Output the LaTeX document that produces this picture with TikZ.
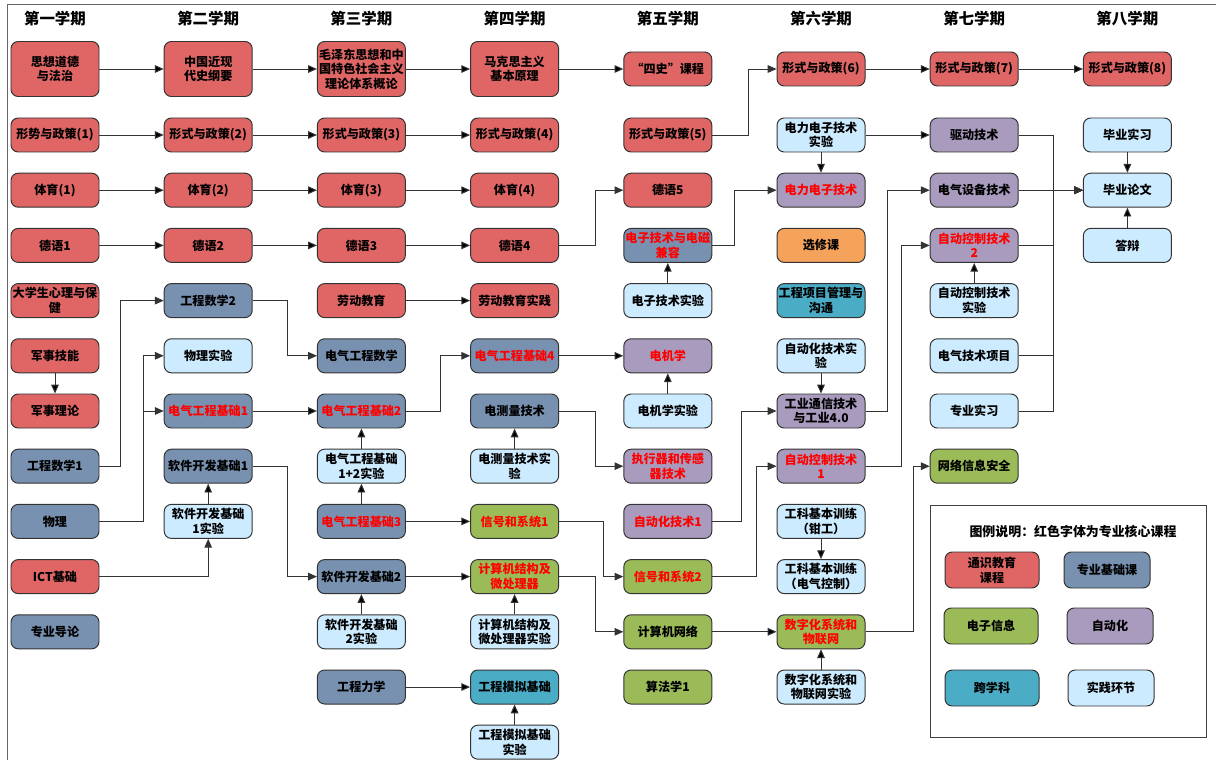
\documentclass[tikz,border=0pt]{standalone}
\usepackage{fontspec}
\setmainfont{Noto Sans CJK SC}
\usetikzlibrary{positioning, arrows.meta}
\definecolor{cgen}{HTML}{E06666}
\definecolor{cbas}{HTML}{7891B0}
\definecolor{cele}{HTML}{9BBB59}
\definecolor{caut}{HTML}{A99BBD}
\definecolor{ccrs}{HTML}{4BACC6}
\definecolor{cprc}{HTML}{CCEBFF}
\definecolor{copt}{HTML}{F5A35B}

\begin{document}
\begin{tikzpicture}[node distance=1.38cm and 3.83cm,on grid,
  >={Triangle[length=2.2mm,width=1.9mm]},
  course/.style={draw=black!80,line width=0.7pt,rounded corners=1.8mm,
    minimum width=2.2cm,minimum height=0.85cm,inner xsep=1pt,inner ysep=1pt,
    align=center,font=\fontsize{8.6}{10.4}\selectfont\bfseries},
  tall/.style={minimum height=1.375cm},
  gen/.style={course,fill=cgen},
  bas/.style={course,fill=cbas},
  ele/.style={course,fill=cele},
  aut/.style={course,fill=caut},
  crs/.style={course,fill=ccrs},
  lab/.style={course,fill=cprc},
  opt/.style={course,fill=copt},
  core/.style={text=red},
  head/.style={font=\fontsize{11}{13}\selectfont\bfseries},
  legbox/.style={minimum width=2.35cm,minimum height=0.9cm},
  link/.style={->,line width=0.7pt,draw=black!80}]
\useasboundingbox (-1.375,1.725) rectangle (29.025,-17.275);
\draw[black!60,line width=0.7pt] (-1.2,-17.275) |- (29.025,1.625);

% first semester
\node[gen,tall] (a1) {思想道德\\与法治};
\node[gen] (a2) [below=1.65cm of a1] {形势与政策(1)};
\node[gen] (a3) [below=of a2] {体育(1)};
\node[gen] (a4) [below=of a3] {德语1};
\node[gen] (a5) [below=of a4] {大学生心理与保\\健};
\node[gen] (a6) [below=of a5] {军事技能};
\node[gen] (a7) [below=of a6] {军事理论};
\node[bas] (a8) [below=of a7] {工程数学1};
\node[bas] (a9) [below=of a8] {物理};
\node[gen] (a10) [below=of a9] {ICT基础};
\node[bas] (a11) [below=of a10] {专业导论};

% second semester
\node[gen,tall] (b1) [right=of a1] {中国近现\\代史纲要};
\node[gen] (b2) [below=1.65cm of b1] {形式与政策(2)};
\node[gen] (b3) [below=of b2] {体育(2)};
\node[gen] (b4) [below=of b3] {德语2};
\node[bas] (b5) [below=of b4] {工程数学2};
\node[lab] (b6) [below=of b5] {物理实验};
\node[bas,core] (b7) [below=of b6] {电气工程基础1};
\node[bas] (b8) [below=of b7] {软件开发基础1};
\node[lab] (b9) [below=of b8] {软件开发基础\\1实验};

% third semester
\node[gen,tall] (c1) [right=of b1] {毛泽东思想和中\\国特色社会主义\\理论体系概论};
\node[gen] (c2) [below=1.65cm of c1] {形式与政策(3)};
\node[gen] (c3) [below=of c2] {体育(3)};
\node[gen] (c4) [below=of c3] {德语3};
\node[gen] (c5) [below=of c4] {劳动教育};
\node[bas] (c6) [below=of c5] {电气工程数学};
\node[bas,core] (c7) [below=of c6] {电气工程基础2};
\node[lab] (c8) [below=of c7] {电气工程基础\\1+2实验};
\node[bas,core] (c9) [below=of c8] {电气工程基础3};
\node[bas] (c10) [below=of c9] {软件开发基础2};
\node[lab] (c11) [below=of c10] {软件开发基础\\2实验};
\node[bas] (c12) [below=of c11] {工程力学};

% fourth semester
\node[gen,tall] (d1) [right=of c1] {马克思主义\\基本原理};
\node[gen] (d2) [below=1.65cm of d1] {形式与政策(4)};
\node[gen] (d3) [below=of d2] {体育(4)};
\node[gen] (d4) [below=of d3] {德语4};
\node[gen] (d5) [below=of d4] {劳动教育实践};
\node[bas,core] (d6) [below=of d5] {电气工程基础4};
\node[bas] (d7) [below=of d6] {电测量技术};
\node[lab] (d8) [below=of d7] {电测量技术实\\验};
\node[ele,core] (d9) [below=of d8] {信号和系统1};
\node[ele,core] (d10) [below=of d9] {计算机结构及\\微处理器};
\node[lab] (d11) [below=of d10] {计算机结构及\\微处理器实验};
\node[crs] (d12) [below=of d11] {工程模拟基础};
\node[lab] (d13) [below=of d12] {工程模拟基础\\实验};

% fifth semester
\node[gen] (e1) [right=of d1] {“四史”课程};
\node[gen] (e2) [below=1.65cm of e1] {形式与政策(5)};
\node[gen] (e3) [below=of e2] {德语5};
\node[bas,core] (e4) [below=of e3] {电子技术与电磁\\兼容};
\node[lab] (e5) [below=of e4] {电子技术实验};
\node[aut,core] (e6) [below=of e5] {电机学};
\node[lab] (e7) [below=of e6] {电机学实验};
\node[aut,core] (e8) [below=of e7] {执行器和传感\\器技术};
\node[aut,core] (e9) [below=of e8] {自动化技术1};
\node[ele,core] (e10) [below=of e9] {信号和系统2};
\node[ele] (e11) [below=of e10] {计算机网络};
\node[ele] (e12) [below=of e11] {算法学1};

% sixth semester
\node[gen] (f1) [right=of e1] {形式与政策(6)};
\node[lab] (f2) [below=1.65cm of f1] {电力电子技术\\实验};
\node[aut,core] (f3) [below=of f2] {电力电子技术};
\node[opt] (f4) [below=of f3] {选修课};
\node[crs] (f5) [below=of f4] {工程项目管理与\\沟通};
\node[lab] (f6) [below=of f5] {自动化技术实\\验};
\node[aut] (f7) [below=of f6] {工业通信技术\\与工业4.0};
\node[aut,core] (f8) [below=of f7] {自动控制技术\\1};
\node[lab] (f9) [below=of f8] {工科基本训练\\（钳工）};
\node[lab] (f10) [below=of f9] {工科基本训练\\（电气控制）};
\node[ele,core] (f11) [below=of f10] {数字化系统和\\物联网};
\node[lab] (f12) [below=of f11] {数字化系统和\\物联网实验};

% seventh semester
\node[gen] (g1) [right=of f1] {形式与政策(7)};
\node[aut] (g2) [below=1.65cm of g1] {驱动技术};
\node[aut] (g3) [below=of g2] {电气设备技术};
\node[aut,core] (g4) [below=of g3] {自动控制技术\\2};
\node[lab] (g5) [below=of g4] {自动控制技术\\实验};
\node[lab] (g6) [below=of g5] {电气技术项目};
\node[lab] (g7) [below=of g6] {专业实习};
\node[ele] (g8) [below=of g7] {网络信息安全};

% eighth semester
\node[gen] (h1) [right=of g1] {形式与政策(8)};
\node[lab] (h2) [below=1.65cm of h1] {毕业实习};
\node[lab] (h3) [below=of h2] {毕业论文};
\node[lab] (h4) [below=of h3] {答辩};

\node[head] (t1) [above=1.25cm of a1] {第一学期};
\node[head] (t2) [above=1.25cm of b1] {第二学期};
\node[head] (t3) [above=1.25cm of c1] {第三学期};
\node[head] (t4) [above=1.25cm of d1] {第四学期};
\node[head] (t5) [above=1.25cm of e1] {第五学期};
\node[head] (t6) [above=1.25cm of f1] {第六学期};
\node[head] (t7) [above=1.25cm of g1] {第七学期};
\node[head] (t8) [above=1.25cm of h1] {第八学期};

\path[link]
(a1) edge (b1)
(b1) edge (c1)
(c1) edge (d1)
(d1) edge (e1)
(a2) edge (b2)
(b2) edge (c2)
(c2) edge (d2)
(f1) edge (g1)
(g1) edge (h1)
(a3) edge (b3)
(b3) edge (c3)
(c3) edge (d3)
(a4) edge (b4)
(b4) edge (c4)
(c4) edge (d4)
(a6) edge (a7)
(c5) edge (d5)
(b7) edge (c7)
(b9) edge (b8)
(c8) edge (c7)
(c9) edge (c8)
(c9) edge (d9)
(c11) edge (c10)
(c10) edge (d10)
(c12) edge (d12)
(d8) edge (d7)
(d11) edge (d10)
(d13) edge (d12)
(d6) edge (e6)
(e5) edge (e4)
(e7) edge (e6)
(e11) edge (f11)
(f2) edge (f3)
(f2) edge (g2)
(f6) edge (f7)
(f9) edge (f10)
(f12) edge (f11)
(g3) edge (h3)
(g5) edge (g4)
(h2) edge (h3)
(h4) edge (h3);

\draw[link] (a8.east) -- ++(0.525,0) |- (b5.west);
\draw[link] (a9.east) -- ++(1.1,0) |- (b6.west);
\draw[link] (a9.east) -- ++(1.1,0) |- (b7.west);
\draw[link] (a10.east) -| (b9.south);
\draw[link] (b5.east) -- ++(0.875,0) |- (c6.west);
\draw[link] (b8.east) -- ++(0.875,0) |- (c10.west);
\draw[link] (c7.east) -- ++(0.875,0) |- (d6.west);
\draw[link] (d4.east) -- ++(0.9,0) |- (e3.west);
\draw[link] (d7.east) -- ++(0.9,0) |- (e8.west);
\draw[link] (d9.east) -- ++(1.1,0) |- (e10.west);
\draw[link] (d10.east) -- ++(0.9,0) |- (e11.west);
\draw[link] (e2.east) -- ++(0.9,0) |- (f1.west);
\draw[link] (e4.east) -- ++(0.55,0) |- (f3.west);
\draw[link] (e9.east) -- ++(0.725,0) |- (f7.west);
\draw[link] (e10.east) -- ++(1.1,0) |- (f8.west);
\draw[link] (f7.east) -- ++(0.55,0) |- (g3.west);
\draw[link] (f8.east) -- ++(0.9,0) |- (g4.west);
\draw[link] (f11.east) -- ++(1.2,0) |- (g8.west);
\draw[link] (g2.east) -- ++(0.875,0) |- (h3.west);
\draw[link] (g4.east) -- ++(0.875,0) |- (h3.west);
\draw[link] (g6.east) -- ++(0.875,0) |- (h3.west);
\draw[link] (g7.east) -- ++(0.875,0) |- (h3.west);

% legend
\draw[black!75,line width=0.7pt] (21.875,-10.9) rectangle (28.775,-16.7);
\node[font=\fontsize{9.2}{11}\selectfont\bfseries] (lgt) at (25.45,-11.575) {图例说明：红色字体为专业核心课程};
\node[gen,legbox] (lg1) at (23.425,-12.525) {通识教育\\课程};
\node[bas,legbox,minimum width=2.15cm] (lg2) at (26.3,-12.525) {专业基础课};
\node[ele,legbox] (lg3) at (23.4,-13.925) {电子信息};
\node[aut,legbox,minimum width=2.15cm] (lg4) at (26.375,-13.925) {自动化};
\node[crs,legbox] (lg5) at (23.425,-15.475) {跨学科};
\node[lab,legbox,minimum width=2.15cm] (lg6) at (26.4,-15.475) {实践环节};
\end{tikzpicture}
\end{document}
